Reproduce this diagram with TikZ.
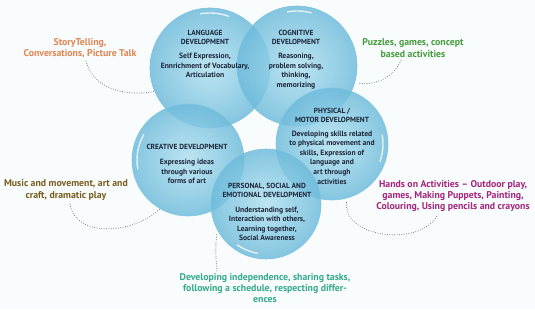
\documentclass[tikz,border=0pt]{standalone}
\usepackage{fontspec}
\setmainfont{PT Sans}
\usepackage{xcolor}
\usepackage{tikz}
\usetikzlibrary{positioning, calc, shadings}
\definecolor{bubbleout}{RGB}{108, 186, 218}
\definecolor{bubblein}{RGB}{176, 224, 240}
\definecolor{bubbleedge}{RGB}{126, 196, 224}
\definecolor{inktext}{RGB}{28, 38, 58}
\definecolor{storyorange}{RGB}{224, 132, 80}
\definecolor{puzzlegreen}{RGB}{70, 156, 60}
\definecolor{musicbrown}{RGB}{120, 92, 30}
\definecolor{handsmagenta}{RGB}{166, 36, 124}
\definecolor{devteal}{RGB}{52, 170, 138}
\definecolor{paper}{RGB}{248, 252, 253}

\begin{document}
\begin{tikzpicture}[x=1pt, y=1pt,
    bubble/.style={circle, draw=bubbleedge, line width=0.6pt,
                   shading=radial, inner color=bubblein, outer color=bubbleout,
                   fill opacity=0.82, inner sep=0pt},
    gloss/.style={white, line width=1.4pt, opacity=0.75, line cap=round},
    heading/.style={align=center, text=inktext, inner sep=0pt,
                    font=\fontsize{7.4}{9}\selectfont\bfseries},
    body/.style={align=center, text=inktext, inner sep=0pt,
                 font=\fontsize{7.6}{9.6}\selectfont\bfseries},
    activity/.style={align=center, inner sep=0pt,
                     font=\fontsize{9.8}{11.3}\selectfont\bfseries},
    dots/.style={line width=1pt, gray!85!black, line cap=round,
                 dash pattern=on 0pt off 2.4pt}
]

\fill[paper] (0,0) rectangle (535,-309);
\useasboundingbox (0,0) rectangle (535,-309);

%% bubbles
\node[bubble, minimum size=120pt] (lang) at (210,-68)  {};
\node[bubble, minimum size=120pt] (cog)  at (297,-66)  {};
\node[bubble, minimum size=112pt] (crea) at (188,-160) {};
\node[bubble, minimum size=112pt] (phys) at (332,-144) {};
\node[bubble, minimum size=110pt] (pers) at (266,-204) {};

%% glossy highlights
\draw[gloss] ([shift={(100:55)}]lang.center) arc (100:70:55);
\draw[gloss] ([shift={(100:55)}]cog.center) arc (100:75:55);
\draw[gloss] ([shift={(190:51)}]crea.center) arc (190:150:51);
\draw[gloss] ([shift={(235:50)}]pers.center) arc (235:260:50);
\draw[gloss] ([shift={(-20:51)}]phys.center) arc (-20:10:51);

%% texts inside the bubbles
\node[heading] (langhd) at (205,-37.5) {LANGUAGE\\DEVELOPMENT};
\node[body, below=8pt of langhd] (langbd) {Self Expression,\\Ennrichment of Vocabulary,\\Articulation};

\node[heading] (coghd) at (296,-37.5) {COGNITIVE\\DEVELOPMENT};
\node[body, below=8pt of coghd] (cogbd) {Reasoning,\\problem solving,\\thinking,\\memorizing};

\node[heading] (physhd) at (332,-115.5) {PHYSICAL /\\MOTOR DEVELOPMENT};
\node[body, below=7.5pt of physhd] (physbd) {Developing skills related\\to physical movement and\\skills, Expression of\\language and\\art through\\activities};

\node[heading] (creahd) at (187,-147) {CREATIVE DEVELOPMENT};
\node[body, below=9pt of creahd] (creabd) {Expressing ideas\\through various\\forms of art};

\node[heading] (pershd) at (267,-190.5) {PERSONAL, SOCIAL AND\\EMOTIONAL DEVELOPMENT};
\node[body, below=8.5pt of pershd] (persbd) {Understanding self,\\Interaction with others,\\Learning together,\\Social Awareness};

%% activities around
\node[activity, text=storyorange]  (story)  at (80,-48)   {StoryTelling,\\Conversations, Picture Talk};
\node[activity, text=puzzlegreen]  (puzzle) at (413,-48)  {Puzzles, games, concept\\based activities};
\node[activity, text=musicbrown]   (music)  at (66,-190)  {Music and movement, art and\\craft, dramatic play};
\node[activity, text=handsmagenta] (hands)  at (453,-196) {Hands on Activities -- Outdoor play,\\games, Making Puppets, Painting,\\Colouring, Using pencils and crayons};
\node[activity, text=devteal]      (dev)    at (265,-288) {Developing independence, sharing tasks,\\following a schedule, respecting differ-\\ences};

%% dotted links
\draw[dots] ([xshift=6pt,yshift=-3pt]story.south) to[out=-75, in=190] (lang.203);
\draw[dots] ([xshift=-12pt,yshift=-3pt]puzzle.south) to[out=-115, in=-5] ([shift={(-16:3)}]cog.-16);
\draw[dots] ([xshift=4pt,yshift=-4pt]music.south) to[out=-80, in=225] (crea.240);
\draw[dots] ([shift={(-76:4)}]phys.-76) to[out=-95, in=-120] ([xshift=-16pt,yshift=-4pt]hands.south);
\draw[dots] ([shift={(212:3)}]pers.212) to[out=-95, in=95] ([xshift=-48pt,yshift=2pt]dev.north);

\end{tikzpicture}
\end{document}
